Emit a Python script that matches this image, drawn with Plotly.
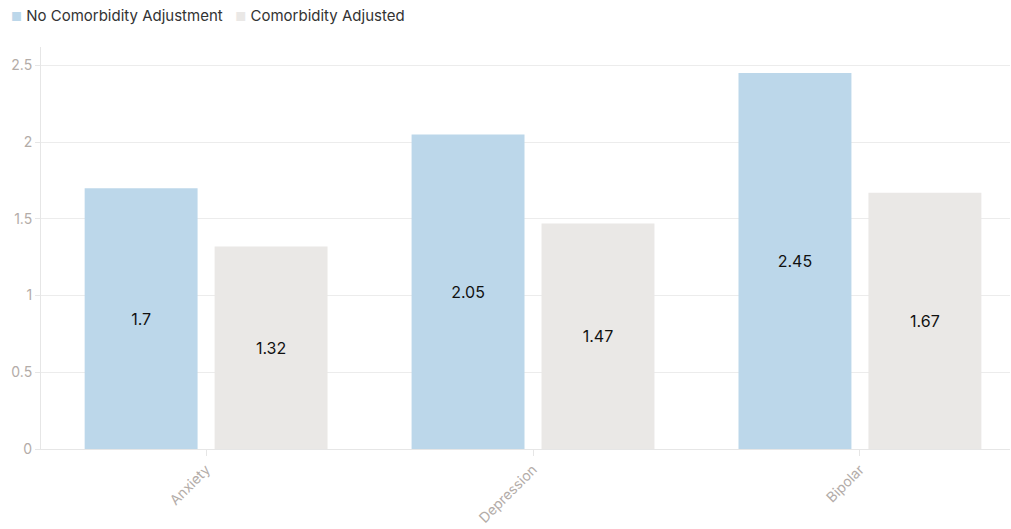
import plotly.graph_objects as go

categories = ["Anxiety", "Depression", "Bipolar"]
no_adjustment = [1.7, 2.05, 2.45]
adjusted = [1.32, 1.47, 1.67]
series_names = ["No Comorbidity Adjustment", "Comorbidity Adjusted"]
series_colors = ["#bcd7ea", "#eae8e6"]
y_ticks = [0, 0.5, 1, 1.5, 2, 2.5]
y_tick_text = ["0", "0.5", "1", "1.5", "2", "2.5"]

FONT = "Inter, Lato, sans-serif"

fig = go.Figure()
for name, color, values in zip(series_names, series_colors, [no_adjustment, adjusted]):
    fig.add_trace(go.Bar(
        name=name,
        x=categories, y=values,
        marker=dict(color=color, line=dict(width=0)),
        text=[str(v) for v in values],
        textposition="inside", insidetextanchor="middle",
        textfont=dict(color="#111111", size=16, family=FONT),
    ))

# compact legend row drawn as annotations: swatch glyph followed by the series name
legend_html = "   ".join(
    f"<span style='color:{c};font-size:12px'>■</span> {n}"
    for n, c in zip(series_names, series_colors)
)
fig.add_annotation(
    text=legend_html, xref="paper", yref="paper", x=-0.033, y=1.0,
    xanchor="left", yanchor="bottom", yshift=20, showarrow=False,
    font=dict(size=15, color="#333333", family=FONT),
)

fig.update_layout(
    width=1011, height=529,
    margin=dict(l=41, r=1, t=47, b=80),
    paper_bgcolor="white", plot_bgcolor="white",
    barmode="group", bargap=0.205, bargroupgap=0.131,
    font=dict(family=FONT, color="#333333", size=14),
    showlegend=False,
    xaxis=dict(
        range=[-0.505, 2.459],
        showline=True, linecolor="#e6e6e6", linewidth=1,
        ticks="outside", tickcolor="#e6e6e6", ticklen=6,
        tickangle=-45, tickfont=dict(color="#b3aca8", size=14, family=FONT),
        showgrid=False,
    ),
    yaxis=dict(
        range=[0, 2.62],
        tickvals=y_ticks, ticktext=y_tick_text,
        showline=True, linecolor="#e6e6e6", linewidth=1,
        ticks="outside", tickcolor="#e6e6e6", ticklen=5,
        gridcolor="#ececec", gridwidth=1, zeroline=False,
        tickfont=dict(color="#b3aca8", size=14, family=FONT),
    ),
)

fig.write_html("out.html")
